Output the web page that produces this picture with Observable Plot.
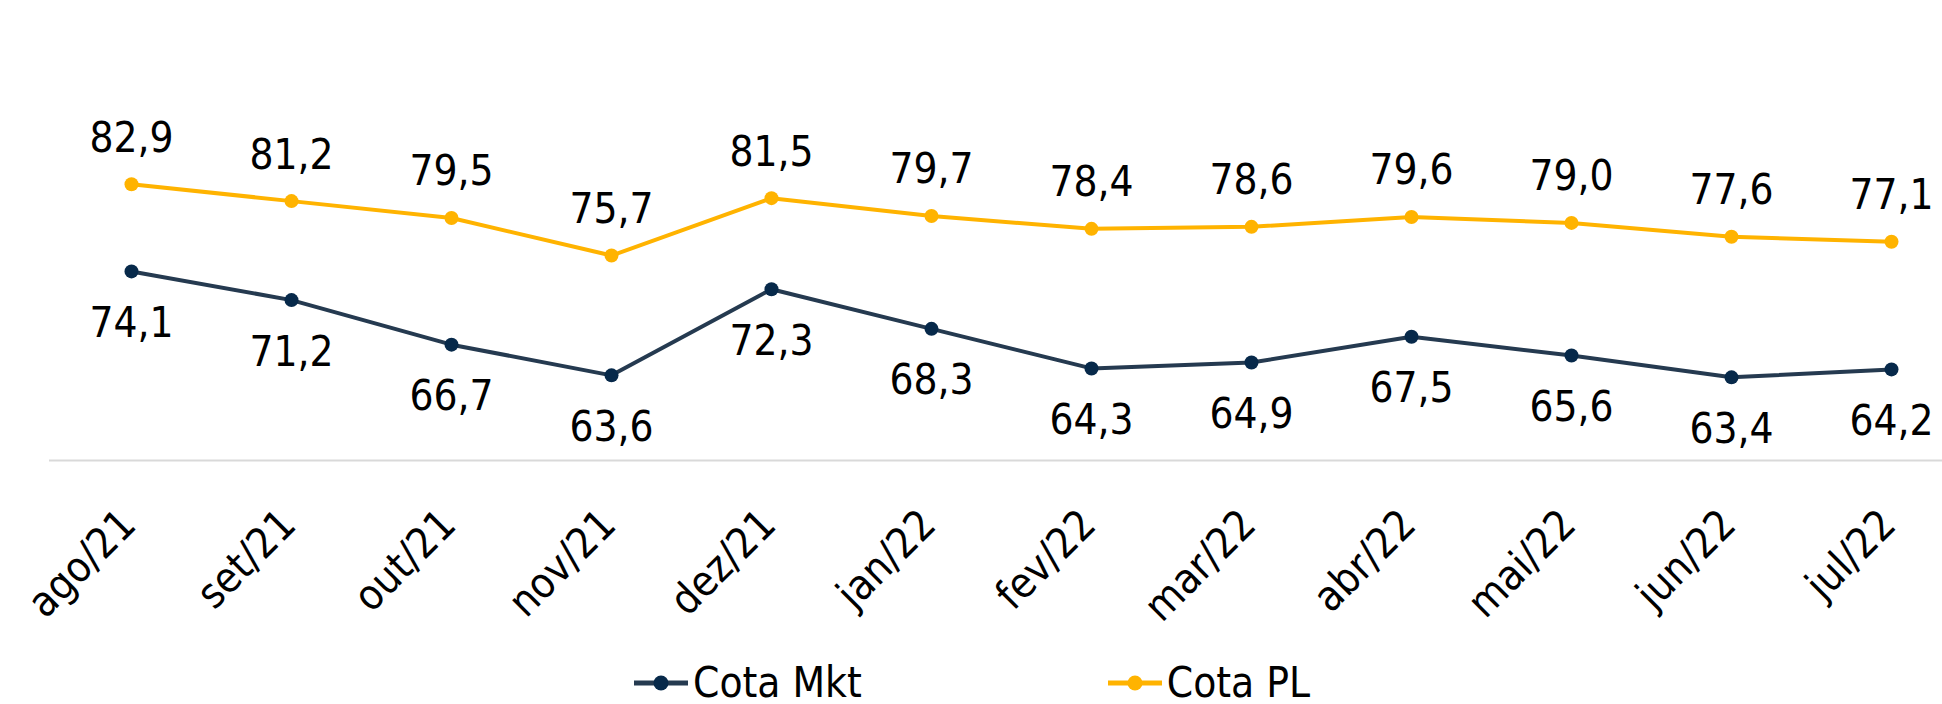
<!DOCTYPE html>
<html>
<head>
<meta charset="utf-8">
<script src="https://cdn.jsdelivr.net/npm/d3@7"></script>
<script src="https://cdn.jsdelivr.net/npm/@observablehq/plot@0.6"></script>
<style>
  html, body { margin: 0; padding: 0; background: #fff; }
  body { width: 1942px; height: 704px; overflow: hidden; font-family: "DejaVu Sans Condensed", "Liberation Sans Narrow", "DejaVu Sans", sans-serif; font-stretch: condensed; }
  #chart svg { display: block; }
  #legend { box-sizing: border-box; display: flex; align-items: center; padding-left: 632px; gap: 244px; height: 54px; padding-top: 12px; font-size: 42px; line-height: 42px; color: #000; }
  .item { display: flex; align-items: center; height: 42px; }
  .item svg { margin-right: 3px; }
</style>
</head>
<body>
<div id="chart"></div>
<div id="legend"></div>
<script>
const months = ["ago/21","set/21","out/21","nov/21","dez/21","jan/22","fev/22","mar/22","abr/22","mai/22","jun/22","jul/22"];
const cotaMkt = [74.1, 71.2, 66.7, 63.6, 72.3, 68.3, 64.3, 64.9, 67.5, 65.6, 63.4, 64.2];
const cotaPL  = [82.9, 81.2, 79.5, 75.7, 81.5, 79.7, 78.4, 78.6, 79.6, 79.0, 77.6, 77.1];
const seriesNames = ["Cota Mkt", "Cota PL"];
const lineColors = ["#253a50", "#ffb300"];
const markerColors = ["#07294a", "#ffb300"];
const yDomain = [55, 85];

const fontFamily = '"DejaVu Sans Condensed", "Liberation Sans Narrow", "DejaVu Sans", sans-serif';
const nf = new Intl.NumberFormat("pt-BR", {minimumFractionDigits: 1, maximumFractionDigits: 1});

const data = months.flatMap((m, i) => [
  {month: m, series: seriesNames[0], value: cotaMkt[i]},
  {month: m, series: seriesNames[1], value: cotaPL[i]}
]);
const mktData = data.filter(d => d.series === seriesNames[0]);
const plData = data.filter(d => d.series === seriesNames[1]);

const chart = Plot.plot({
  width: 1942,
  height: 650,
  marginLeft: 128,
  marginRight: 48,
  marginTop: 163,
  marginBottom: 190,
  x: {type: "point", domain: months, padding: 0},
  y: {domain: yDomain, axis: null},
  color: {domain: seriesNames, range: lineColors},
  style: {fontFamily, fontSize: "42px", color: "#000", background: "#fff", fontStretch: "condensed"},
  marks: [
    Plot.ruleY([yDomain[0]], {stroke: "#d9d9d9", strokeWidth: 2, insetLeft: -79, insetRight: -48}),
    Plot.lineY(data, {x: "month", y: "value", z: "series", stroke: "series", strokeWidth: 4}),
    Plot.dot(data, {x: "month", y: "value", r: 7, fill: d => markerColors[seriesNames.indexOf(d.series)], stroke: "none"}),
    Plot.text(plData, {x: "month", y: "value", text: d => nf.format(d.value), dy: -46, fill: "#000"}),
    Plot.text(mktData, {x: "month", y: "value", text: d => nf.format(d.value), dy: 52, fill: "#000"}),
    Plot.axisX({tickRotate: -45, tickSize: 0, tickPadding: 57, dx: -3, label: null, fontSize: 42})
  ]
});
document.getElementById("chart").appendChild(chart);

const legend = document.getElementById("legend");
seriesNames.forEach((name, i) => {
  const item = document.createElement("div");
  item.className = "item";
  item.innerHTML = `<svg width="58" height="20"><line x1="2" y1="10" x2="56" y2="10" stroke="${lineColors[i]}" stroke-width="5"/><circle cx="29" cy="10" r="7.5" fill="${markerColors[i]}"/></svg><span>${name}</span>`;
  legend.appendChild(item);
});
</script>
</body>
</html>
